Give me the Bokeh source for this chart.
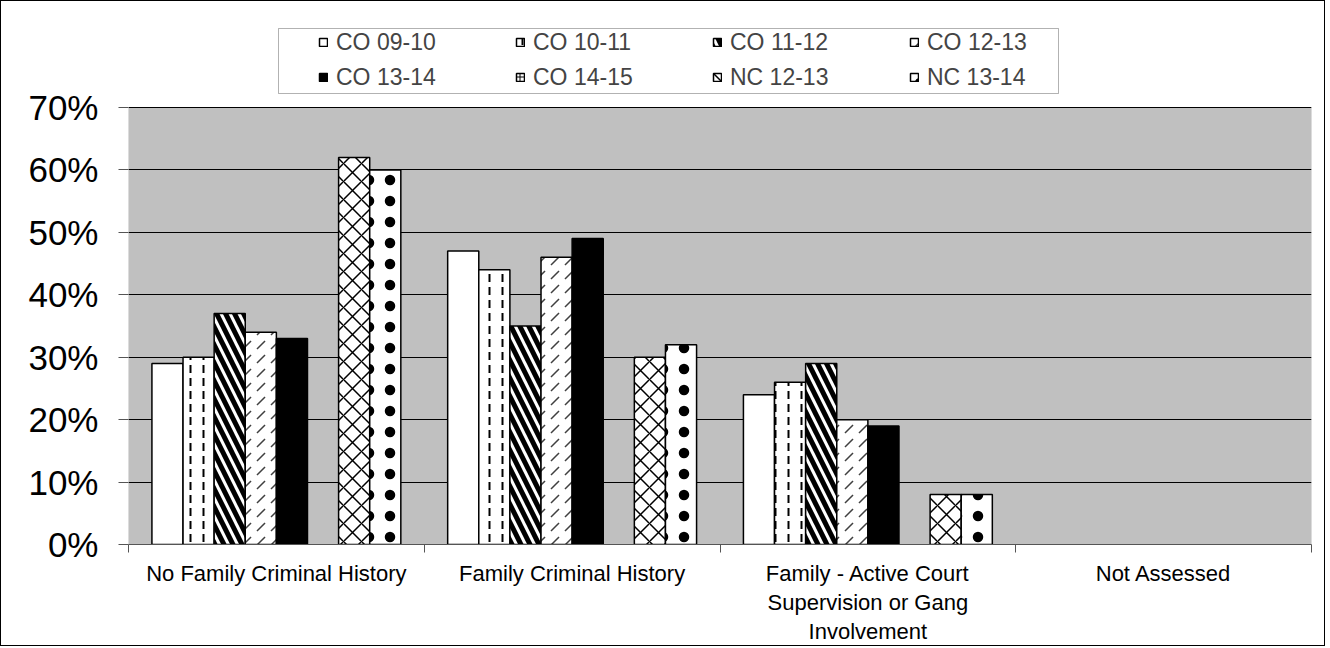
from bokeh.plotting import figure
from bokeh.models import (ColumnDataSource, FixedTicker, Legend, LegendItem,
                          Range1d, BoxAnnotation)
from bokeh.embed import file_html
from bokeh.resources import INLINE

categories = ["No Family Criminal History", "Family Criminal History",
              "Family - Active Court\nSupervision or Gang\nInvolvement",
              "Not Assessed"]
series = ["CO 09-10", "CO 10-11", "CO 11-12", "CO 12-13",
          "CO 13-14", "CO 14-15", "NC 12-13", "NC 13-14"]
nan = float("nan")
co_09_10 = [0.29, 0.47, 0.24, nan]
co_10_11 = [0.30, 0.44, 0.26, nan]
co_11_12 = [0.37, 0.35, 0.29, nan]
co_12_13 = [0.34, 0.46, 0.20, nan]
co_13_14 = [0.33, 0.49, 0.19, nan]
co_14_15 = [nan, nan, nan, nan]
nc_12_13 = [0.62, 0.30, 0.08, nan]
nc_13_14 = [0.60, 0.32, 0.08, nan]
values = [co_09_10, co_10_11, co_11_12, co_12_13, co_13_14, co_14_15, nc_12_13, nc_13_14]
y_ticks = [0, 0.1, 0.2, 0.3, 0.4, 0.5, 0.6, 0.7]
y_labels = ["0%", "10%", "20%", "30%", "40%", "50%", "60%", "70%"]

styles = [
    dict(fill_color="white"),
    dict(fill_color="white", hatch_pattern="vertical_dash", hatch_scale=13, hatch_weight=2, hatch_color="black"),
    dict(fill_color="white", hatch_pattern="left_diagonal_line", hatch_scale=18, hatch_weight=5, hatch_color="black"),
    dict(fill_color="white", hatch_pattern="right_diagonal_dash", hatch_scale=14, hatch_weight=1.5, hatch_color="#404040"),
    dict(fill_color="black"),
    dict(fill_color="white", hatch_pattern="cross", hatch_scale=8, hatch_weight=1, hatch_color="black"),
    dict(fill_color="white", hatch_pattern="diagonal_cross", hatch_scale=18, hatch_weight=1.5, hatch_color="black"),
    dict(fill_color="white", hatch_pattern="dot", hatch_scale=21, hatch_weight=1, hatch_color="black"),
]

FONT = "Liberation Sans"

# layout (page pixels)
W, H = 1325, 646
F_LEFT, F_RIGHT, F_TOP, F_BOTTOM = 128, 1311, 20, 544
PLOT_TOP = 107                      # where the 70% line sits
Y_MAX = y_ticks[-1]
Y_TOP = Y_MAX * (F_BOTTOM - F_TOP) / (F_BOTTOM - PLOT_TOP)
X_MAX = len(categories)

def px_x(px):
    return (px - F_LEFT) / (F_RIGHT - F_LEFT) * X_MAX

def px_y(py):
    return (F_BOTTOM - py) / (F_BOTTOM - F_TOP) * Y_TOP

p = figure(width=W, height=H, output_backend="svg", toolbar_location=None,
           x_range=Range1d(0, X_MAX), y_range=Range1d(0, Y_TOP),
           min_border_left=F_LEFT - 1, min_border_right=W + 1 - F_RIGHT,
           min_border_top=F_TOP - 1, min_border_bottom=H + 1 - F_BOTTOM)
p.background_fill_color = "white"
p.border_fill_color = "white"
p.outline_line_color = None
p.styles = {"border": "1px solid black"}

# grey plot area (under the grid lines)
p.add_layout(BoxAnnotation(bottom=0, top=Y_MAX, left=0, right=X_MAX,
                           fill_color="#C0C0C0", fill_alpha=1,
                           line_color="#707070", line_width=1, level="image"))

n = len(series)
slot = 0.1052
items = []
for j, (name, vals, st) in enumerate(zip(series, values, styles)):
    xs = [i + 0.5 + (j - (n - 1) / 2) * slot for i in range(len(categories))]
    src = ColumnDataSource(dict(x=xs, top=vals))
    r = p.vbar(x="x", top="top", bottom=0, width=slot, source=src,
               line_color="black", line_width=1.5, **st)
    items.append(LegendItem(label=name, renderers=[r]))

p.xaxis.ticker = FixedTicker(ticks=[i + 0.5 for i in range(len(categories))],
                             minor_ticks=list(range(len(categories) + 1)))
p.xaxis.major_label_overrides = {i + 0.5: c for i, c in enumerate(categories)}
p.xaxis.major_tick_line_color = None
p.xaxis.major_tick_out = 0
p.xaxis.major_tick_in = 0
p.xaxis.minor_tick_line_color = "#555555"
p.xaxis.minor_tick_out = 8
p.xaxis.minor_tick_in = 0
p.xaxis.axis_line_color = "#555555"
p.xaxis.major_label_text_font = FONT
p.xaxis.major_label_text_font_size = "22px"
p.xaxis.major_label_text_line_height = 1.16
p.xaxis.major_label_text_color = "black"
p.xaxis.major_label_standoff = 8

p.yaxis.ticker = FixedTicker(ticks=y_ticks)
p.yaxis.major_label_overrides = {t: l for t, l in zip(y_ticks, y_labels)}
p.yaxis.major_label_text_font = FONT
p.yaxis.major_label_text_font_size = "35px"
p.yaxis.major_label_text_color = "black"
p.yaxis.major_tick_out = 10
p.yaxis.major_tick_in = 0
p.yaxis.major_tick_line_color = "#555555"
p.yaxis.minor_tick_line_color = None
p.yaxis.axis_line_color = None
p.yaxis.major_label_standoff = 20

p.xgrid.grid_line_color = None
p.ygrid.ticker = FixedTicker(ticks=y_ticks[1:])
p.ygrid.grid_line_color = "black"
p.ygrid.grid_line_width = 1

# legend box
p.add_layout(BoxAnnotation(left=px_x(278), right=px_x(1058),
                           top=px_y(28), bottom=px_y(93),
                           fill_color="white", fill_alpha=1,
                           line_color="black", line_width=1))

legend = Legend(items=items, ncols=4,
                location=(318 - F_LEFT, F_BOTTOM - 91),
                orientation="horizontal",
                label_text_font=FONT, label_text_font_size="23px",
                glyph_width=10, glyph_height=10, label_standoff=8,
                label_width=172, label_height=28,
                spacing=7, padding=0, margin=0,
                border_line_color=None, background_fill_alpha=0)
p.add_layout(legend, "center")

open("out.html", "w").write(file_html(p, INLINE))
